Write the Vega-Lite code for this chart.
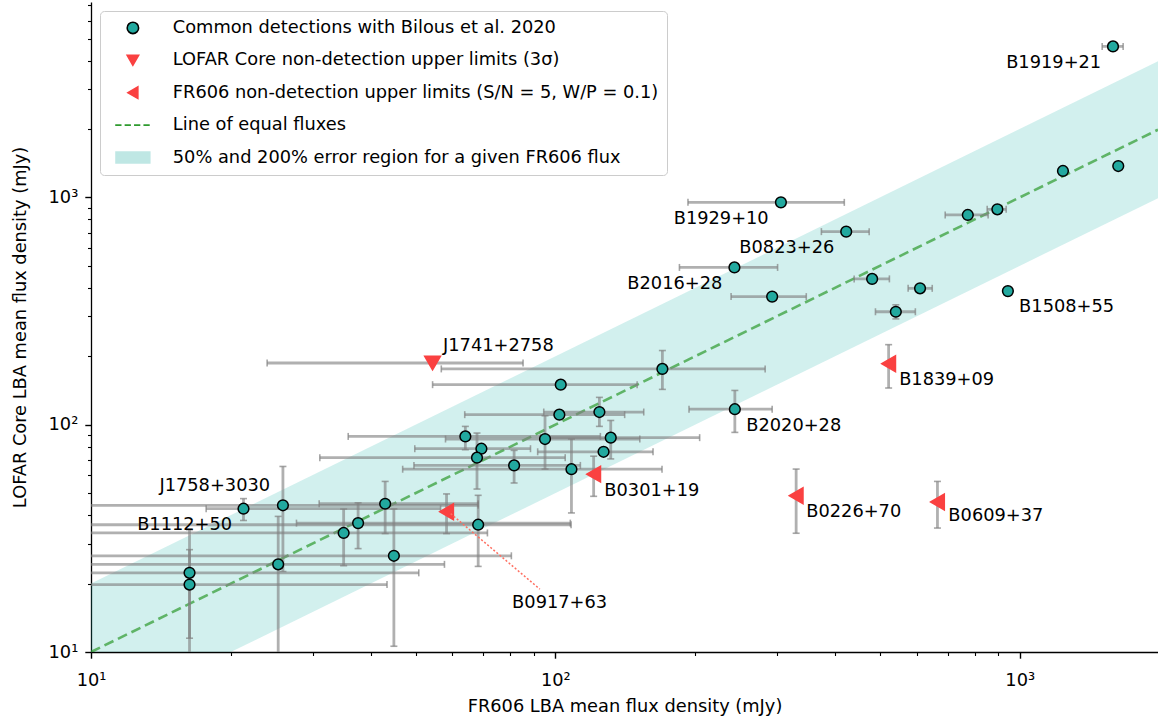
{
  "$schema": "https://vega.github.io/schema/vega-lite/v6.json",
  "autosize": {"type": "none"},
  "padding": {"left": 91, "top": 2, "right": 0, "bottom": 70},
  "width": 1067,
  "height": 650,
  "config": {
    "font": "DejaVu Sans",
    "view": {"stroke": null},
    "axis": {
      "grid": false,
      "domainColor": "black",
      "domainWidth": 1.3,
      "tickColor": "black",
      "labelColor": "black",
      "labelFontSize": 17.8,
      "titleFontSize": 17.8,
      "titleFontWeight": "normal",
      "titleColor": "black",
      "labelOverlap": false,
      "labelFlush": false
    },
    "legend": {
      "orient": "top-left",
      "offset": 9,
      "padding": 8,
      "rowPadding": 13.4,
      "symbolOffset": 16,
      "labelOffset": 31,
      "labelFontSize": 17.8,
      "labelColor": "black",
      "labelLimit": 800,
      "symbolSize": 130,
      "symbolStrokeWidth": 1.6,
      "fillColor": "white",
      "strokeColor": "#cccccc",
      "cornerRadius": 4
    }
  },
  "datasets": {
    "pts": [
      {"name": "B1919+21", "kind": "det", "fr606": 1588, "lofar": 4617, "fr606_lo": 1505, "fr606_hi": 1670},
      {"kind": "det", "fr606": 1630, "lofar": 1374},
      {"kind": "det", "fr606": 1239, "lofar": 1307},
      {"kind": "det", "fr606": 895, "lofar": 886, "fr606_lo": 851, "fr606_hi": 935},
      {"kind": "det", "fr606": 773, "lofar": 837, "fr606_lo": 691, "fr606_hi": 855},
      {"name": "B1929+10", "kind": "det", "fr606": 306, "lofar": 951, "fr606_lo": 193, "fr606_hi": 419},
      {"name": "B0823+26", "kind": "det", "fr606": 423, "lofar": 707, "fr606_lo": 374, "fr606_hi": 474},
      {"name": "B2016+28", "kind": "det", "fr606": 243, "lofar": 492, "fr606_lo": 185, "fr606_hi": 301},
      {"kind": "det", "fr606": 481, "lofar": 438, "fr606_lo": 440, "fr606_hi": 524},
      {"kind": "det", "fr606": 610, "lofar": 398, "fr606_lo": 575, "fr606_hi": 648},
      {"kind": "det", "fr606": 293, "lofar": 366, "fr606_lo": 239, "fr606_hi": 347},
      {"kind": "det", "fr606": 541, "lofar": 314, "fr606_lo": 489, "fr606_hi": 596, "lofar_lo": 292, "lofar_hi": 337},
      {"name": "B1508+55", "kind": "det", "fr606": 943, "lofar": 387},
      {"kind": "det", "fr606": 170, "lofar": 176, "fr606_lo": 56.8, "fr606_hi": 283, "lofar_lo": 143, "lofar_hi": 212},
      {"kind": "det", "fr606": 102.7, "lofar": 150, "fr606_lo": 54.4, "fr606_hi": 150},
      {"name": "B2020+28", "kind": "det", "fr606": 243.5, "lofar": 117, "fr606_lo": 194, "fr606_hi": 293, "lofar_lo": 92.5, "lofar_hi": 141.5},
      {"kind": "det", "fr606": 102, "lofar": 110.7, "fr606_lo": 63.8, "fr606_hi": 141},
      {"kind": "det", "fr606": 124.4, "lofar": 113.7, "fr606_lo": 94.4, "fr606_hi": 155, "lofar_lo": 98.3, "lofar_hi": 131.9},
      {"kind": "det", "fr606": 64, "lofar": 88.8, "fr606_lo": 35.8, "fr606_hi": 125, "lofar_lo": 77.6, "lofar_hi": 98.3},
      {"kind": "det", "fr606": 95, "lofar": 86.5, "fr606_lo": 58, "fr606_hi": 152, "lofar_lo": 63.8, "lofar_hi": 109.5},
      {"kind": "det", "fr606": 131.6, "lofar": 87.7, "fr606_lo": 92.8, "fr606_hi": 204.5, "lofar_lo": 70.7, "lofar_hi": 104.4},
      {"kind": "det", "fr606": 69.3, "lofar": 78.4, "fr606_lo": 49.8, "fr606_hi": 88.4},
      {"kind": "det", "fr606": 67.8, "lofar": 71.6, "fr606_lo": 31.1, "fr606_hi": 105, "lofar_lo": 52.1, "lofar_hi": 91.9},
      {"kind": "det", "fr606": 127, "lofar": 76, "fr606_lo": 91.6, "fr606_hi": 162.3},
      {"kind": "det", "fr606": 81.5, "lofar": 66.2, "fr606_lo": 49.6, "fr606_hi": 113.2, "lofar_lo": 55.4, "lofar_hi": 77.1},
      {"kind": "det", "fr606": 108.3, "lofar": 63.7, "fr606_lo": 46.9, "fr606_hi": 169.7, "lofar_lo": 40.9, "lofar_hi": 86.5},
      {"name": "J1758+3030", "kind": "det", "fr606": 21.3, "lofar": 42.7, "fr606_lo": 17.7, "fr606_hi": 56.6, "lofar_lo": 37.9, "lofar_hi": 47.3},
      {"kind": "det", "fr606": 25.9, "lofar": 44.2, "fr606_lo": 8, "fr606_hi": 68.2, "lofar_lo": 22.6, "lofar_hi": 65.5},
      {"kind": "det", "fr606": 43, "lofar": 44.9, "fr606_lo": 31, "fr606_hi": 68.2, "lofar_lo": 33.2, "lofar_hi": 56.3},
      {"kind": "det", "fr606": 37.6, "lofar": 36.9, "fr606_lo": 27.7, "fr606_hi": 107.7, "lofar_lo": 28.5, "lofar_hi": 45.3},
      {"kind": "det", "fr606": 68.2, "lofar": 36.3, "fr606_lo": 8, "fr606_hi": 108.1, "lofar_lo": 23.8, "lofar_hi": 48.9},
      {"kind": "det", "fr606": 35, "lofar": 33.4, "fr606_lo": 8, "fr606_hi": 71.4, "lofar_lo": 24, "lofar_hi": 42.6},
      {"kind": "det", "fr606": 44.9, "lofar": 26.5, "fr606_lo": 8, "fr606_hi": 80.4, "lofar_lo": 10.6, "lofar_hi": 42.6},
      {"kind": "det", "fr606": 25.3, "lofar": 24.3, "fr606_lo": 8, "fr606_hi": 57.7, "lofar_lo": 8, "lofar_hi": 39.5},
      {"name": "B1112+50", "kind": "det", "fr606": 16.3, "lofar": 22.3, "fr606_lo": 8, "fr606_hi": 50.8, "lofar_lo": 11.5, "lofar_hi": 28.2},
      {"kind": "det", "fr606": 16.3, "lofar": 19.8, "fr606_lo": 8, "fr606_hi": 43.4, "lofar_lo": 8, "lofar_hi": 34.5},
      {"name": "J1741+2758", "kind": "lofar", "fr606": 54.4, "lofar": 186.8, "fr606_lo": 23.95, "fr606_hi": 85.2},
      {"name": "B0917+63", "kind": "fr606", "fr606": 58.3, "lofar": 41.4, "lofar_lo": 33.2, "lofar_hi": 49.6},
      {"name": "B0301+19", "kind": "fr606", "fr606": 120.9, "lofar": 60.6, "lofar_lo": 48.4, "lofar_hi": 72.7},
      {"name": "B0226+70", "kind": "fr606", "fr606": 330, "lofar": 48.7, "lofar_lo": 33.3, "lofar_hi": 63.8},
      {"name": "B0609+37", "kind": "fr606", "fr606": 665, "lofar": 45.7, "lofar_lo": 35.1, "lofar_hi": 56.3},
      {"name": "B1839+09", "kind": "fr606", "fr606": 522, "lofar": 185.5, "lofar_lo": 145, "lofar_hi": 225}
    ],
    "band": [
      {"fr606": 10, "lo": 5, "eq": 10, "hi": 20},
      {"fr606": 1985, "lo": 992.5, "eq": 1985, "hi": 3970}
    ],
    "labels": [
      {"name": "B1919+21", "lx": 935, "ly": 3914},
      {"name": "B1929+10", "lx": 179.8, "ly": 806},
      {"name": "B0823+26", "lx": 249, "ly": 597},
      {"name": "B2016+28", "lx": 142.9, "ly": 415.9},
      {"name": "B1508+55", "lx": 997, "ly": 328},
      {"name": "B1839+09", "lx": 550, "ly": 157.8},
      {"name": "B2020+28", "lx": 257.7, "ly": 99},
      {"name": "J1741+2758", "lx": 57.3, "ly": 222.7},
      {"name": "B0301+19", "lx": 127.5, "ly": 51.2},
      {"name": "B0226+70", "lx": 347, "ly": 41.1},
      {"name": "B0609+37", "lx": 702, "ly": 39.5},
      {"name": "J1758+3030", "lx": 14.04, "ly": 53.6},
      {"name": "B1112+50", "lx": 12.57, "ly": 36.06},
      {"name": "B0917+63", "lx": 80.7, "ly": 16.5, "ax": 59.5, "ay": 40.6, "ex": 92.6, "ey": 18.9}
    ]
  },
  "encoding": {
    "x": {
      "field": "fr606", "type": "quantitative",
      "title": "FR606 LBA mean flux density (mJy)",
      "scale": {"type": "log", "domain": [10, 1985], "nice": false},
      "axis": {
        "values": [10, 20, 30, 40, 50, 60, 70, 80, 90, 100, 200, 300, 400, 500, 600, 700, 800, 900, 1000],
        "labelExpr": "datum.value == 10 ? '10¹' : datum.value == 100 ? '10²' : datum.value == 1000 ? '10³' : ''",
        "tickSize": {"condition": {"test": "indexof([10, 100, 1000], datum.value) >= 0", "value": 6.2}, "value": 3.5},
        "tickWidth": {"condition": {"test": "indexof([10, 100, 1000], datum.value) >= 0", "value": 1.4}, "value": 1.1},
        "labelPadding": 13,
        "titlePadding": 8
      }
    },
    "y": {
      "field": "lofar", "type": "quantitative",
      "title": "LOFAR Core LBA mean flux density (mJy)",
      "scale": {"type": "log", "domain": [10, 7239], "nice": false},
      "axis": {
        "values": [10, 20, 30, 40, 50, 60, 70, 80, 90, 100, 200, 300, 400, 500, 600, 700, 800, 900, 1000, 2000, 3000, 4000, 5000, 6000, 7000],
        "labelExpr": "datum.value == 10 ? '10¹' : datum.value == 100 ? '10²' : datum.value == 1000 ? '10³' : ''",
        "tickSize": {"condition": {"test": "indexof([10, 100, 1000], datum.value) >= 0", "value": 6.2}, "value": 3.5},
        "tickWidth": {"condition": {"test": "indexof([10, 100, 1000], datum.value) >= 0", "value": 1.4}, "value": 1.1},
        "labelPadding": 7,
        "titlePadding": 19
      }
    }
  },
  "layer": [
    {
      "data": {"name": "band"},
      "mark": {"type": "area", "color": "#20b2aa", "opacity": 0.2, "clip": true},
      "encoding": {
        "y": {"field": "lo", "type": "quantitative", "title": "LOFAR Core LBA mean flux density (mJy)", "scale": {"type": "log", "domain": [10, 7239], "nice": false}},
        "y2": {"field": "hi"}
      }
    },
    {
      "data": {"name": "band"},
      "mark": {"type": "line", "color": "#2e9a2e", "opacity": 0.7, "strokeWidth": 2.6, "strokeDash": [10, 5], "clip": true},
      "encoding": {
        "y": {"field": "eq", "type": "quantitative", "title": "LOFAR Core LBA mean flux density (mJy)", "scale": {"type": "log", "domain": [10, 7239], "nice": false}}
      }
    },
    {
      "data": {"name": "pts"},
      "transform": [{"filter": "isValid(datum.fr606_lo)"}],
      "mark": {"type": "rule", "color": "#808080", "opacity": 0.62, "strokeWidth": 2.8, "clip": true},
      "encoding": {
        "x": {"field": "fr606_lo", "type": "quantitative", "title": "FR606 LBA mean flux density (mJy)", "scale": {"type": "log", "domain": [10, 1985], "nice": false}},
        "x2": {"field": "fr606_hi"}
      }
    },
    {
      "data": {"name": "pts"},
      "transform": [{"filter": "isValid(datum.lofar_lo)"}],
      "mark": {"type": "rule", "color": "#808080", "opacity": 0.62, "strokeWidth": 2.8, "clip": true},
      "encoding": {
        "y": {"field": "lofar_lo", "type": "quantitative", "title": "LOFAR Core LBA mean flux density (mJy)", "scale": {"type": "log", "domain": [10, 7239], "nice": false}},
        "y2": {"field": "lofar_hi"}
      }
    },
    {
      "data": {"name": "pts"},
      "transform": [
        {"filter": "isValid(datum.fr606_lo)"},
        {"fold": ["fr606_lo", "fr606_hi"], "as": ["end", "cap"]}
      ],
      "mark": {"type": "tick", "orient": "vertical", "color": "#808080", "opacity": 0.7, "size": 7, "thickness": 1.6, "clip": true},
      "encoding": {
        "x": {"field": "cap", "type": "quantitative", "title": "FR606 LBA mean flux density (mJy)", "scale": {"type": "log", "domain": [10, 1985], "nice": false}}
      }
    },
    {
      "data": {"name": "pts"},
      "transform": [
        {"filter": "isValid(datum.lofar_lo)"},
        {"fold": ["lofar_lo", "lofar_hi"], "as": ["end", "cap"]}
      ],
      "mark": {"type": "tick", "orient": "horizontal", "color": "#808080", "opacity": 0.7, "size": 7, "thickness": 1.6, "clip": true},
      "encoding": {
        "y": {"field": "cap", "type": "quantitative", "title": "LOFAR Core LBA mean flux density (mJy)", "scale": {"type": "log", "domain": [10, 7239], "nice": false}}
      }
    },
    {
      "data": {"name": "pts"},
      "mark": {"type": "point", "filled": true, "opacity": 1, "strokeWidth": 1.5},
      "encoding": {
        "fill": {
          "field": "kind", "type": "nominal",
          "scale": {"domain": ["det", "lofar", "fr606", "line", "band"], "range": ["#22a99f", "#fa4141", "#fa4141", "transparent", "#bfe7e4"]},
          "legend": {
            "title": null,
            "labelExpr": "datum.label == 'det' ? 'Common detections with Bilous et al. 2020' : datum.label == 'lofar' ? 'LOFAR Core non-detection upper limits (3σ)' : datum.label == 'fr606' ? 'FR606 non-detection upper limits (S/N = 5, W/P = 0.1)' : datum.label == 'line' ? 'Line of equal fluxes' : '50% and 200% error region for a given FR606 flux'"
          }
        },
        "stroke": {
          "field": "kind", "type": "nominal",
          "scale": {"domain": ["det", "lofar", "fr606", "line", "band"], "range": ["black", "#fa4141", "#fa4141", "#2e9a2e", "transparent"]},
          "legend": {
            "title": null,
            "labelExpr": "datum.label == 'det' ? 'Common detections with Bilous et al. 2020' : datum.label == 'lofar' ? 'LOFAR Core non-detection upper limits (3σ)' : datum.label == 'fr606' ? 'FR606 non-detection upper limits (S/N = 5, W/P = 0.1)' : datum.label == 'line' ? 'Line of equal fluxes' : '50% and 200% error region for a given FR606 flux'"
          }
        },
        "shape": {
          "field": "kind", "type": "nominal",
          "scale": {"domain": ["det", "lofar", "fr606", "line", "band"], "range": ["circle", "triangle-down", "triangle-left", "M-3.1,0H-2M-1.45,0H-0.35M0.2,0H1.3M1.85,0H2.95", "M-3.1,-1.1H3.1V1.1H-3.1Z"]},
          "legend": {
            "title": null,
            "labelExpr": "datum.label == 'det' ? 'Common detections with Bilous et al. 2020' : datum.label == 'lofar' ? 'LOFAR Core non-detection upper limits (3σ)' : datum.label == 'fr606' ? 'FR606 non-detection upper limits (S/N = 5, W/P = 0.1)' : datum.label == 'line' ? 'Line of equal fluxes' : '50% and 200% error region for a given FR606 flux'"
          }
        },
        "size": {"condition": {"test": "datum.kind === 'det'", "value": 115}, "value": 250}
      }
    },
    {
      "data": {"name": "labels"},
      "transform": [{"filter": "isValid(datum.ax)"}],
      "mark": {"type": "rule", "color": "#ff6f61", "strokeWidth": 1.5, "strokeDash": [2, 2]},
      "encoding": {
        "x": {"field": "ax", "type": "quantitative", "title": "FR606 LBA mean flux density (mJy)", "scale": {"type": "log", "domain": [10, 1985], "nice": false}},
        "x2": {"field": "ex"},
        "y": {"field": "ay", "type": "quantitative", "title": "LOFAR Core LBA mean flux density (mJy)", "scale": {"type": "log", "domain": [10, 7239], "nice": false}},
        "y2": {"field": "ey"}
      }
    },
    {
      "data": {"name": "labels"},
      "mark": {"type": "text", "align": "left", "baseline": "middle", "fontSize": 17.8, "color": "black"},
      "encoding": {
        "x": {"field": "lx", "type": "quantitative", "title": "FR606 LBA mean flux density (mJy)", "scale": {"type": "log", "domain": [10, 1985], "nice": false}},
        "y": {"field": "ly", "type": "quantitative", "title": "LOFAR Core LBA mean flux density (mJy)", "scale": {"type": "log", "domain": [10, 7239], "nice": false}},
        "text": {"field": "name"}
      }
    },
    {
      "data": {"name": "band"},
      "mark": {"type": "rule", "color": "black", "strokeWidth": 1.3},
      "encoding": {
        "x": {"value": 0},
        "x2": {"value": 1067},
        "y": {"datum": 7239, "type": "quantitative", "title": "LOFAR Core LBA mean flux density (mJy)", "scale": {"type": "log", "domain": [10, 7239], "nice": false}}
      }
    }
  ]
}
